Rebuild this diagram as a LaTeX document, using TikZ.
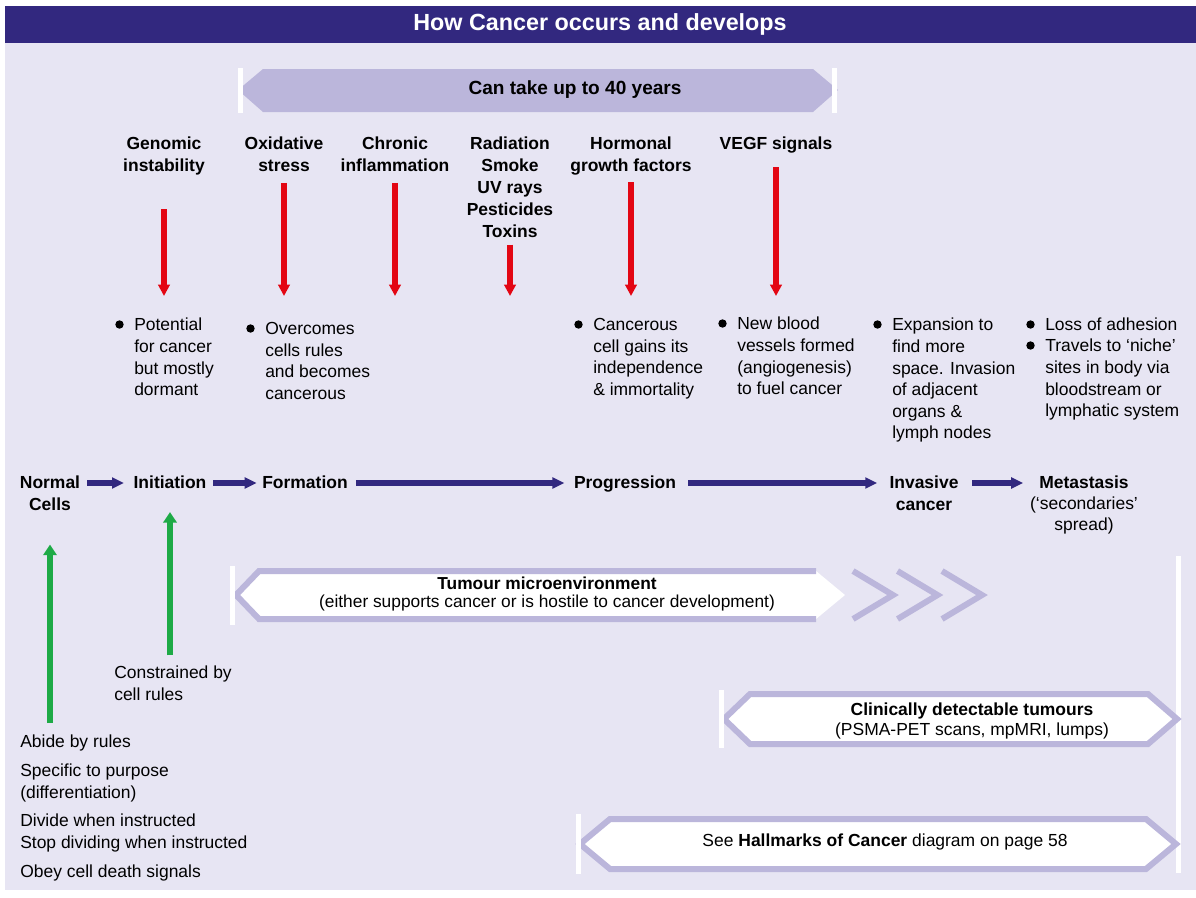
\documentclass[tikz,border=0pt]{standalone}
\usepackage{fontspec}
\setmainfont{Liberation Sans}
\usetikzlibrary{arrows.meta}

\definecolor{deepblue}{HTML}{32287F}
\definecolor{lilacbg}{HTML}{E7E5F3}
\definecolor{lilac}{HTML}{BBB6DB}
\definecolor{riskred}{HTML}{E30613}
\definecolor{rulegreen}{HTML}{1EAA46}

\begin{document}
\begin{tikzpicture}[x=0.75pt,y=-0.75pt,
    every node/.style={inner sep=0pt,font=\fontsize{13.1}{16.2}\selectfont},
    factor/.style={anchor=north,align=center,font=\fontsize{13.1}{16.4}\selectfont\bfseries},
    stage/.style={anchor=north,align=center,font=\fontsize{13.1}{16.4}\selectfont\bfseries},
    note/.style={anchor=north west,align=left},
    risk/.style={riskred,line width=4.5pt,-{Triangle[width=8.5pt,length=8.5pt]}},
    flow/.style={deepblue,line width=3.8pt,-{Triangle[width=8pt,length=9pt]}},
    rule/.style={rulegreen,line width=4.8pt,-{Triangle[width=10pt,length=8pt]}},
    frame/.style={lilac,line width=4.5pt}]

    \useasboundingbox (0,0) rectangle (1196,897);
    \fill[white] (0,0) rectangle (1196,897);
    \fill[lilacbg] (5,43) rectangle (1196,890);
    \fill[deepblue] (5,6) rectangle (1196,43); % title bar
    \node[text=white,font=\fontsize{17.5}{20}\selectfont\bfseries] (title) at (600,24) {How Cancer occurs and develops};

    % time span banner
    \fill[lilac] (238,90) -- (263,69) -- (813,69) -- (838,90) -- (813,112) -- (263,112) -- cycle;
    \fill[white] (238,68) rectangle (243,113);
    \fill[white] (832,68) rectangle (837,113);
    \node[font=\fontsize{14.3}{17}\selectfont\bfseries] (span) at (575,90) {Can take up to 40 years};

    % causes
    \node[factor] (gen) at (164,137) {Genomic\\instability};
    \node[factor] (oxi) at (284,137) {Oxidative\\stress};
    \node[factor] (chr) at (395,137) {Chronic\\inflammation};
    \node[factor] (rad) at (510,137) {Radiation\\Smoke\\UV rays\\Pesticides\\Toxins};
    \node[factor] (hor) at (631,137) {Hormonal\\growth factors};
    \node[factor] (vegf) at (776,137) {VEGF signals};

    \coordinate (redend) at (0,296);
    \draw[risk,shorten <=25pt] (gen.south) -- (gen.south |- redend);
    \draw[risk,shorten <=8pt] (oxi.south) -- (oxi.south |- redend);
    \draw[risk,shorten <=8pt] (chr.south) -- (chr.south |- redend);
    \draw[risk,shorten <=5pt] (rad.south) -- (rad.south |- redend);
    \draw[risk,shorten <=5pt] (hor.south) -- (hor.south |- redend);
    \draw[risk,shorten <=10pt] (vegf.south) -- (vegf.south |- redend);

    % effects
    \node[note] (pot) at (134,318) {Potential\\for cancer\\but mostly\\dormant};
    \node[note] (over) at (265,322) {Overcomes\\cells rules\\and becomes\\cancerous};
    \node[note] (indep) at (593,318) {Cancerous\\cell gains its\\independence\\\& immortality};
    \node[note] (vessel) at (737,317) {New blood\\vessels formed\\(angiogenesis)\\to fuel cancer};
    \node[note] (expand) at (892,318) {Expansion to\\find more\\space. Invasion\\of adjacent\\organs \&\\lymph nodes};
    \node[note] (adhes) at (1045,318) {Loss of adhesion};
    \node[note] (travel) at (1045,339) {Travels to ‘niche’\\sites in body via\\bloodstream or\\lymphatic system};
    \foreach \n in {pot,over,indep,vessel,expand,adhes,travel}
        \fill ([shift={(-14.5,6.5)}]\n.north west) circle (4.2);

    % stages
    \node[stage] (normal) at (50,476) {Normal\\Cells};
    \node[stage] (init) at (170,476) {Initiation};
    \node[stage] (form) at (305,476) {Formation};
    \node[stage] (prog) at (625,476) {Progression};
    \node[stage] (inv) at (924,476) {Invasive\\cancer};
    \node[anchor=north,align=center] (meta) at (1084,476) {\textbf{Metastasis}\\[-0.5pt](‘secondaries’\\[-0.5pt]spread)};

    \coordinate (row) at (0,483);
    \draw[flow,shorten <=5pt,shorten >=7pt] (normal.east |- row) -- (init.west |- row);
    \draw[flow,shorten <=5pt,shorten >=4pt] (init.east |- row) -- (form.west |- row);
    \draw[flow,shorten <=6pt,shorten >=7pt] (form.east |- row) -- (prog.west |- row);
    \draw[flow,shorten <=9pt,shorten >=9pt] (prog.east |- row) -- (inv.west |- row);
    \draw[flow,shorten <=10pt,shorten >=5pt] (inv.east |- row) -- (meta.west |- row);

    % cell rules
    \node[note] (constr) at (114,666) {Constrained by\\cell rules};
    \node[note] (abide) at (20,735) {Abide by rules};
    \node[note] (spec) at (20,764) {Specific to purpose\\(differentiation)};
    \node[note] (divide) at (20,814) {Divide when instructed\\Stop dividing when instructed};
    \node[note] (obey) at (20,865) {Obey cell death signals};

    \draw[rule,shorten <=9pt,shorten >=25pt] (normal.south |- abide.north) -- (normal.south);
    \draw[rule,shorten <=8pt,shorten >=17pt] (init.south |- constr.north) -- (init.south);

    % right edge line
    \fill[white] (1176,556) rectangle (1181,873);

    % tumour microenvironment
    \fill[white] (236,595) -- (259,571) -- (816,571) -- (845,595) -- (816,619) -- (259,619) -- cycle;
    \draw[frame] (816,571) -- (259,571) -- (236,595) -- (259,619) -- (816,619);
    \foreach \c in {853,897.5,942}
        \draw[frame] (\c,571) -- (\c+40,595) -- (\c,619);
    \fill[white] (230,566) rectangle (235,625);
    \node[align=center,font=\fontsize{13}{13.6}\selectfont] (micro) at (547,594) {\textbf{Tumour microenvironment}\\(either supports cancer or is hostile to cancer development)};

    % clinically detectable
    \draw[frame,fill=white] (724,719) -- (750,694) -- (1148,694) -- (1177,719) -- (1148,744) -- (750,744) -- cycle;
    \fill[white] (719,690) rectangle (724,748);
    \node[align=center,font=\fontsize{13.1}{14.4}\selectfont] (clin) at (972,721) {\textbf{Clinically detectable tumours}\\(PSMA-PET scans, mpMRI, lumps)};

    % hallmarks
    \draw[frame,fill=white] (580,844) -- (610,819) -- (1146,819) -- (1176,844) -- (1146,869) -- (610,869) -- cycle;
    \fill[white] (576,814) rectangle (581,874);
    \node (hall) at (885,842) {See \textbf{Hallmarks of Cancer} diagram on page 58};

\end{tikzpicture}
\end{document}
